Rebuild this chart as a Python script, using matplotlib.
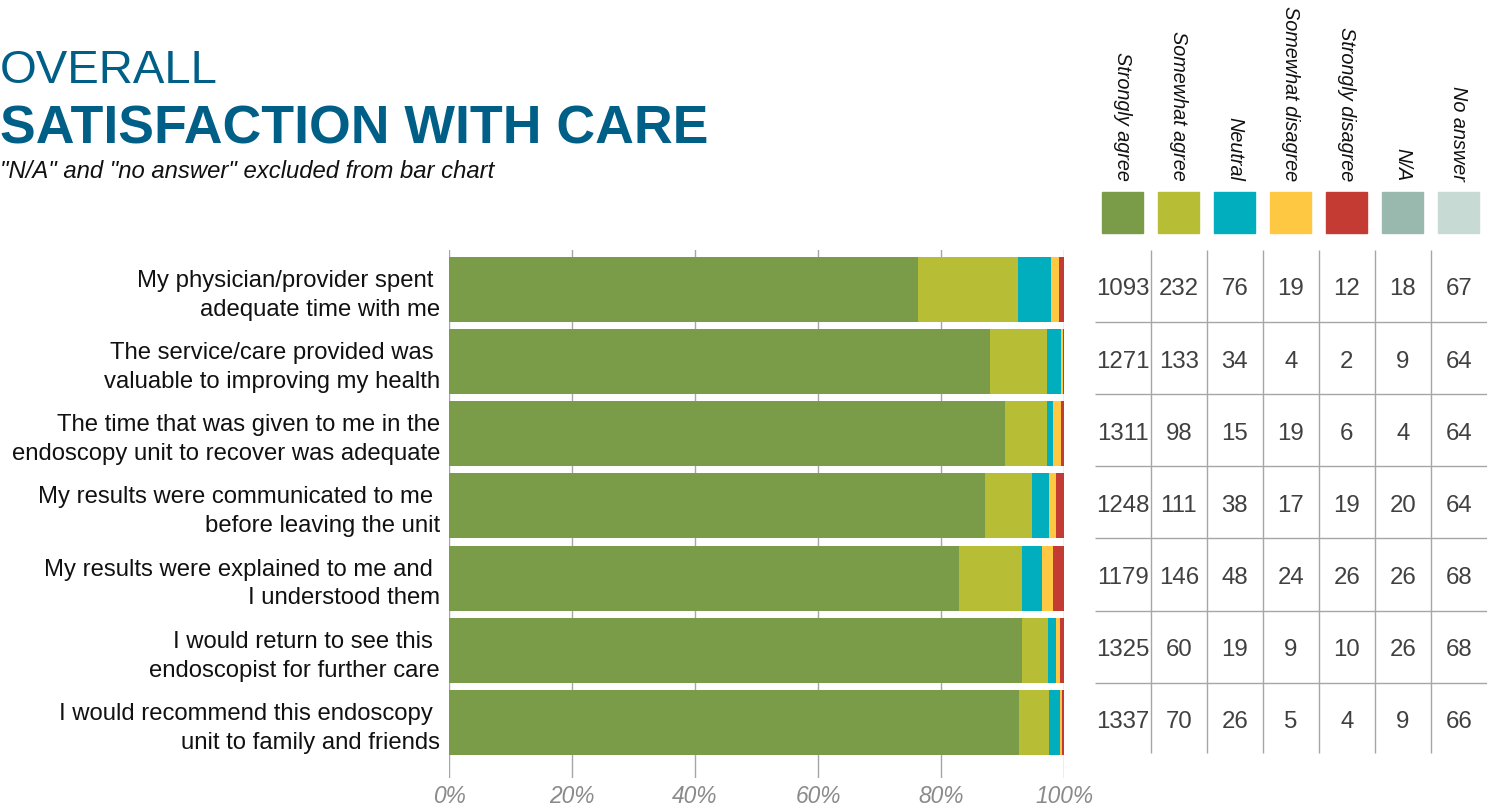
import numpy as np
import matplotlib
matplotlib.use("Agg")
import matplotlib.pyplot as plt
from matplotlib import font_manager
from matplotlib.patches import Rectangle

plt.rcParams['font.family'] = ['Liberation Sans', 'DejaVu Sans']

# survey questions (top to bottom)
questions = [
    "My physician/provider spent \nadequate time with me",
    "The service/care provided was \nvaluable to improving my health",
    "The time that was given to me in the\nendoscopy unit to recover was adequate",
    "My results were communicated to me \nbefore leaving the unit",
    "My results were explained to me and \nI understood them",
    "I would return to see this \nendoscopist for further care",
    "I would recommend this endoscopy \nunit to family and friends",
]

answers = ["Strongly agree", "Somewhat agree", "Neutral", "Somewhat disagree",
           "Strongly disagree", "N/A", "No answer"]

strongly_agree = [1093, 1271, 1311, 1248, 1179, 1325, 1337]
somewhat_agree = [232, 133, 98, 111, 146, 60, 70]
neutral = [76, 34, 15, 38, 48, 19, 26]
somewhat_disagree = [19, 4, 19, 17, 24, 9, 5]
strongly_disagree = [12, 2, 6, 19, 26, 10, 4]
n_a = [18, 9, 4, 20, 26, 26, 9]
no_answer = [67, 64, 64, 64, 68, 68, 66]

colors = ["#7a9c48", "#b7bd34", "#00aebd", "#ffc843", "#c43b34", "#9ab9ae", "#c8dad4"]
title_color = "#005f87"
line_color = "#a6a6a6"

# narrow font for the count table if it is there
try:
    font_manager.findfont(font_manager.FontProperties(family="Liberation Sans Narrow"),
                          fallback_to_default=False)
    num_family = ["Liberation Sans Narrow", "Liberation Sans"]
    num_size = 19
except Exception:
    num_family = ["Liberation Sans"]
    num_size = 17.3

all_counts = np.array([strongly_agree, somewhat_agree, neutral, somewhat_disagree,
                       strongly_disagree, n_a, no_answer])
bar_counts = all_counts[:5]
pct = bar_counts / bar_counts.sum(axis=0) * 100

fig = plt.figure(figsize=(14.9, 8.1), dpi=100)

ylo, yhi = 6.77, -0.547
ax = fig.add_axes([449 / 1490, 1 - 778 / 810, 615 / 1490, 528 / 810])
tb = fig.add_axes([1094.7 / 1490, 1 - 778 / 810, 392 / 1490, 528 / 810])

# stacked bars
y = np.arange(len(questions))
left = np.zeros(len(questions))
for k in range(5):
    ax.barh(y, pct[k], left=left, height=0.9, color=colors[k], zorder=2)
    left += pct[k]

ax.set_xlim(0, 100)
ax.set_ylim(ylo, yhi)
ax.set_xticks(range(0, 101, 20))
ax.set_xticklabels([f"{v}%" for v in range(0, 101, 20)], fontsize=16.4,
                   style="italic", color="#8a8a8a")
ax.set_yticks(y)
ax.set_yticklabels(questions, fontsize=17.2, color="#111111", linespacing=1.4)
ax.tick_params(axis="both", length=0)
ax.tick_params(axis="x", pad=5)
ax.tick_params(axis="y", pad=6.5)
ax.grid(axis="x", color=line_color, lw=1)
ax.set_axisbelow(True)
for s in ax.spines.values():
    s.set_visible(False)

# count table on the right
tb.set_xlim(0, 7)
tb.set_ylim(ylo, yhi)
tb.axis("off")
tb.vlines(range(1, 7), -0.547, 6.42, color=line_color, lw=1)
tb.hlines([i + 0.45 for i in range(6)], 0.01, 7.0, color=line_color, lw=1)
for j in range(7):
    for i in range(len(questions)):
        tb.text(j + 0.5, i, str(all_counts[j][i]), ha="center", va="center",
                fontsize=num_size, family=num_family, color="#404040")
    # legend swatch + header
    tb.add_patch(Rectangle((j + 0.5 - 0.366, -1.351), 0.732, 0.564,
                           color=colors[j], clip_on=False))
    tb.text(j + 0.5, -1.503, answers[j], rotation=270, ha="center", va="bottom",
            fontsize=14.3, style="italic", color="#111111", clip_on=False)

# titles
fig.text(0.0, 1 - 83 / 810, "OVERALL", fontsize=34, color=title_color, va="baseline")
fig.text(0.0, 1 - 144 / 810, "SATISFACTION WITH CARE", fontsize=38.6, weight="bold",
         color=title_color, va="baseline")
fig.text(0.0, 1 - 178 / 810, '"N/A" and "no answer" excluded from bar chart',
         fontsize=17.2, style="italic", color="#111111", va="baseline")

fig.savefig("out.png", dpi=100)
